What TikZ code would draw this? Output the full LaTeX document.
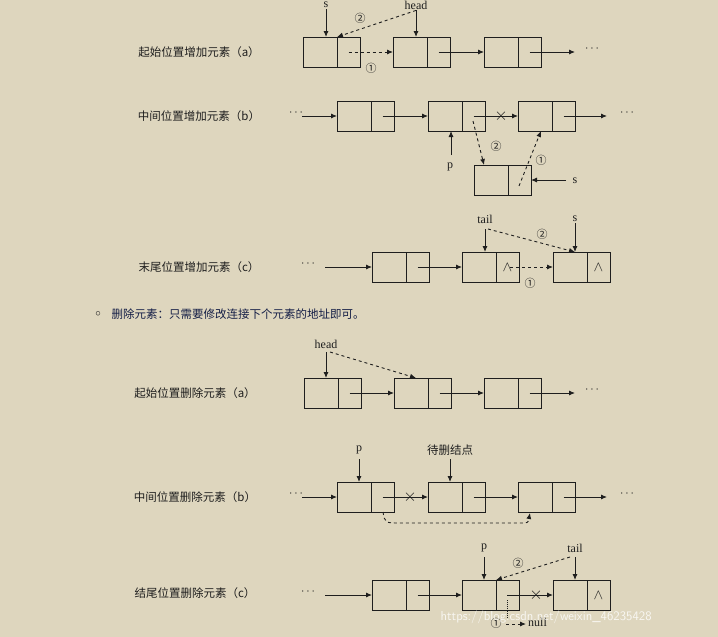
\documentclass[tikz,border=0pt]{standalone}
\usepackage{fontspec}
\setmainfont{Liberation Serif}
\newfontfamily\cjk{Noto Sans CJK SC}
\usetikzlibrary{arrows.meta}
\definecolor{bg}{RGB}{222,214,190}
\definecolor{ink}{RGB}{30,30,30}
\tikzset{
 lbox/.style={draw=ink,line width=0.9pt,minimum width=34pt,minimum height=30pt,inner sep=0pt,outer sep=0pt,anchor=west},
 rbox/.style={draw=ink,line width=0.9pt,minimum width=23pt,minimum height=30pt,inner sep=0pt,outer sep=0pt,anchor=west},
 arr/.style={draw=ink,line width=0.9pt,-{Latex[length=6pt,width=5pt]}},
 darr/.style={arr,dashed},
 lab/.style={font=\cjk\fontsize{11.5}{13}\selectfont,text=ink},
 tx/.style={font=\fontsize{12}{14}\selectfont,text=ink,inner sep=1pt},
 dots/.style={font=\bfseries\fontsize{13}{14}\selectfont,text=ink,inner sep=1pt},
 lam/.style={font=\fontsize{15}{15}\selectfont,text=ink,inner sep=0pt},
 num/.style={font=\cjk\fontsize{11}{12}\selectfont,text=ink,inner sep=0pt},
 crs/.style={font=\fontsize{16}{16}\selectfont,text=ink,inner sep=0pt}
}
\newcommand{\lnode}[3]{\node[lbox] (#1) at (#2,#3) {}; \node[rbox] (#1r) at (#1.east) {};}
\newcommand{\lamb}{$\wedge$}
\begin{document}
\begin{tikzpicture}[x=1pt,y=-1pt]
\fill[bg] (0,0) rectangle (718,637);
\useasboundingbox (0,0) rectangle (718,637);
% ---- add a
\node[lab] (la) at (199,52) {起始位置增加元素（a）};
\lnode{a1}{303}{52}\lnode{a2}{393}{52}\lnode{a3}{484}{52}
\node[tx] (as) at (326,5) {s};
\node[tx] (ah) at (416,5) {head};
\node[dots] (ad) at (592,49) {$\cdots$};
\draw[arr] (as) -- (a1r.north west -| as);
\draw[arr] (ah) -- (a2r.north west -| ah);
\draw[darr] (ah.south) -- (a1r.north west);
\draw[darr] (a1r.center) -- (a2.west);
\draw[arr] (a2r.center) -- (a3.west);
\draw[arr] (a3r.center) -- (575,52);
\node[num] (a2n) at (360,18) {②};
\node[num] (a1n) at (371,68) {①};
% ---- add b
\node[lab] (lb) at (199,116) {中间位置增加元素（b）};
\lnode{b1}{337}{116}\lnode{b2}{428}{116}\lnode{b3}{518}{116}\lnode{bs}{474}{180}
\node[dots] (bd1) at (296,113) {$\cdots$};
\node[dots] (bd2) at (627,113) {$\cdots$};
\coordinate (bst) at (302,116);
\draw[arr] (bst) -- (b1.west);
\draw[arr] (b1r.center) -- (b2.west);
\draw[arr] (b2r.center) -- (b3.west);
\node[crs] (bx) at (501,116) {$\times$};
\draw[arr] (b3r.center) -- (607,116);
\node[tx] (bp) at (450,167) {p};
\draw[arr] (451,155) -- (451,131);
\draw[darr] (473,121) -- (484,165);
\draw[darr] (519,186) -- (541,131);
\node[tx] (bsl) at (575,181) {s};
\draw[arr] (566,180) -- (bsr.east);
\node[num] (b2n) at (496,146) {②};
\node[num] (b1n) at (541,160) {①};
% ---- add c
\node[lab] (lc) at (199,267) {末尾位置增加元素（c）};
\lnode{c1}{372}{267}\lnode{c2}{462}{267}\lnode{c3}{553}{267}
\node[dots] (cd) at (308,264) {$\cdots$};
\draw[arr] (325,267) -- (c1.west);
\draw[arr] (c1r.center) -- (c2.west);
\node[lam] (cl2) at (c2r.center) {\lamb};
\node[lam] (cl3) at (c3r.center) {\lamb};
\draw[darr] (510,267) -- (c3.west);
\node[num] (c1n) at (530,283) {①};
\node[tx] (ct) at (485,219) {tail};
\node[tx] (cs) at (575,219) {s};
\draw[arr] (485,229) -- (485,252);
\draw[arr] (cs) -- (575,252);
\draw[darr] (488,229) -- (575,252);
\node[num] (c2n) at (542,234) {②};
% ---- bullet
\node[font=\fontsize{11}{12}\selectfont,text=ink] (bul) at (98,314) {$\circ$};
\node[lab,anchor=west,text={rgb,255:red,20;green,30;blue,70}] (btx) at (108,314) {删除元素：只需要修改连接下个元素的地址即可。};
% ---- del a
\node[lab] (lda) at (195,393) {起始位置删除元素（a）};
\lnode{d1}{304}{393}\lnode{d2}{394}{393}\lnode{d3}{484}{393}
\node[tx] (dh) at (326,344) {head};
\draw[arr] (326,352) -- (326,378);
\draw[darr] (330,352) -- (416,378);
\draw[arr] (d1r.center) -- (d2.west);
\draw[arr] (d2r.center) -- (d3.west);
\draw[arr] (d3r.center) -- (575,393);
\node[dots] (dd) at (592,390) {$\cdots$};
% ---- del b
\node[lab] (ldb) at (195,497) {中间位置删除元素（b）};
\lnode{e1}{337}{497}\lnode{e2}{428}{497}\lnode{e3}{518}{497}
\node[dots] (ed1) at (296,494) {$\cdots$};
\node[dots] (ed2) at (627,494) {$\cdots$};
\draw[arr] (302,497) -- (e1.west);
\draw[arr] (e1r.center) -- (e2.west);
\node[crs] (ex) at (410,497) {$\times$};
\draw[arr] (e2r.center) -- (e3.west);
\draw[arr] (e3r.center) -- (607,497);
\node[tx] (ep) at (359,450) {p};
\draw[arr] (359,459) -- (359,482);
\node[lab] (edel) at (450,450) {待删结点};
\draw[arr] (450,459) -- (450,482);
\draw[darr] (383,512) .. controls (385,523) .. (400,523) -- (520,523) .. controls (528,523) .. (530,513);
% ---- del c
\node[lab] (ldc) at (195,593) {结尾位置删除元素（c）};
\lnode{f1}{372}{595}\lnode{f2}{462}{595}\lnode{f3}{553}{595}
\node[dots] (fd) at (308,592) {$\cdots$};
\draw[arr] (325,595) -- (f1.west);
\draw[arr] (f1r.center) -- (f2.west);
\draw[arr] (507,595) -- (f3.west);
\node[crs] (fx) at (536,595) {$\times$};
\node[lam] (fl3) at (f3r.center) {\lamb};
\node[tx] (fp) at (484,548) {p};
\draw[arr] (484,557) -- (484,580);
\node[tx] (ft) at (575,548) {tail};
\draw[arr] (575,557) -- (575,580);
\draw[darr] (570,557) -- (496,580);
\node[num] (f2n) at (518,563) {②};
\draw[ink,line width=0.9pt,densely dotted] (507,600) -- (507,618);
\node[num] (f1n) at (496,623) {①};
\draw[darr] (506,624) -- (526,624);
\node[tx,anchor=west] (fnull) at (527,622) {null};
\node[font=\fontsize{13}{15}\selectfont\sffamily,text=white,opacity=0.8,anchor=west] (wm) at (437,617) {https://blog.csdn.net/weixin\_46235428};
\end{tikzpicture}
\end{document}
